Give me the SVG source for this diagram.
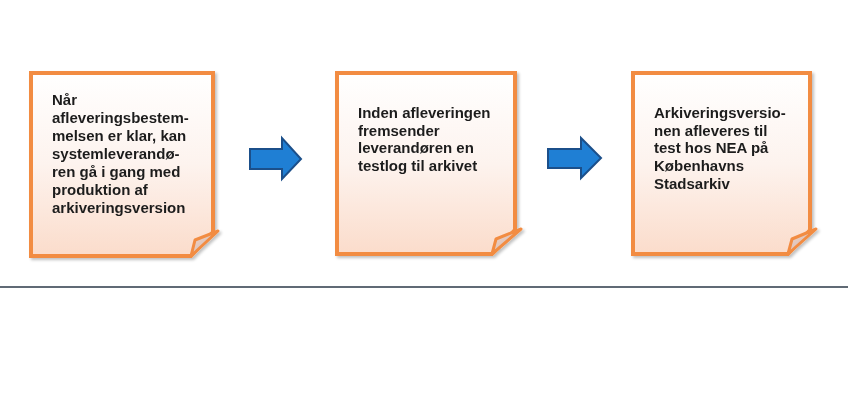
<svg xmlns="http://www.w3.org/2000/svg" width="848" height="410" viewBox="0 0 848 410">
<defs>
<linearGradient id="paper" x1="0" y1="0" x2="0" y2="1">
<stop offset="0" stop-color="#ffffff"/>
<stop offset="0.5" stop-color="#fdf3ee"/>
<stop offset="1" stop-color="#fbdccb"/>
</linearGradient>
<linearGradient id="flap" x1="0" y1="0" x2="1" y2="1">
<stop offset="0" stop-color="#f5d6c8"/>
<stop offset="1" stop-color="#c9b5b0"/>
</linearGradient>
<filter id="sh" x="-10%" y="-10%" width="120%" height="120%">
<feGaussianBlur in="SourceAlpha" stdDeviation="1.5"/>
<feOffset dx="2" dy="2"/>
<feComponentTransfer><feFuncA type="linear" slope="0.25"/></feComponentTransfer>
<feMerge><feMergeNode/><feMergeNode in="SourceGraphic"/></feMerge>
</filter>
</defs>
<style>
.page{fill:url(#paper);stroke:#f28c42;stroke-width:4;stroke-linejoin:miter}
.flap{fill:url(#flap);stroke:#f28c42;stroke-width:3;stroke-linejoin:round}
.txt{font-family:"Liberation Sans",Arial,sans-serif;font-weight:bold;font-size:15px;fill:#1e1e1e}
.arrow{fill:#1f7fd4;stroke:#1b4f8a;stroke-width:2;stroke-linejoin:miter}
</style>
<g id="node1" filter="url(#sh)">
<path class="page" d="M31,73 H213 V232 L191,256 H31 Z"/>
<path class="flap" d="M218,231 L195,240 L191,256 Z"/>
<text class="txt" x="52" y="105">Når</text>
<text class="txt" x="52" y="123">afleveringsbestem-</text>
<text class="txt" x="52" y="141">melsen er klar, kan</text>
<text class="txt" x="52" y="159">systemleverandø-</text>
<text class="txt" x="52" y="177">ren gå i gang med</text>
<text class="txt" x="52" y="195">produktion af</text>
<text class="txt" x="52" y="213">arkiveringsversion</text>
</g>
<g id="node2" filter="url(#sh)">
<path class="page" d="M337,73 H515 V230 L492,254 H337 Z"/>
<path class="flap" d="M521,229 L496,239 L492,254 Z"/>
<text class="txt" x="358" y="118">Inden afleveringen</text>
<text class="txt" x="358" y="136">fremsender</text>
<text class="txt" x="358" y="153">leverandøren en</text>
<text class="txt" x="358" y="171">testlog til arkivet</text>
</g>
<g id="node3" filter="url(#sh)">
<path class="page" d="M633,73 H810 V230 L788,254 H633 Z"/>
<path class="flap" d="M816,229 L792,239 L788,254 Z"/>
<text class="txt" x="654" y="118">Arkiveringsversio-</text>
<text class="txt" x="654" y="136">nen afleveres til</text>
<text class="txt" x="654" y="153">test hos NEA på</text>
<text class="txt" x="654" y="171">Københavns</text>
<text class="txt" x="654" y="189">Stadsarkiv</text>
</g>
<g id="connectors">
<path class="arrow" d="M250,149 H282 V138 L301,159 L282,179 V169 H250 Z"/>
<path class="arrow" d="M548,149 H581 V138 L601,158 L581,178 V168 H548 Z"/>
</g>
<line x1="0" y1="287" x2="848" y2="287" stroke="#2b3847" stroke-width="1.6"/>
</svg>
